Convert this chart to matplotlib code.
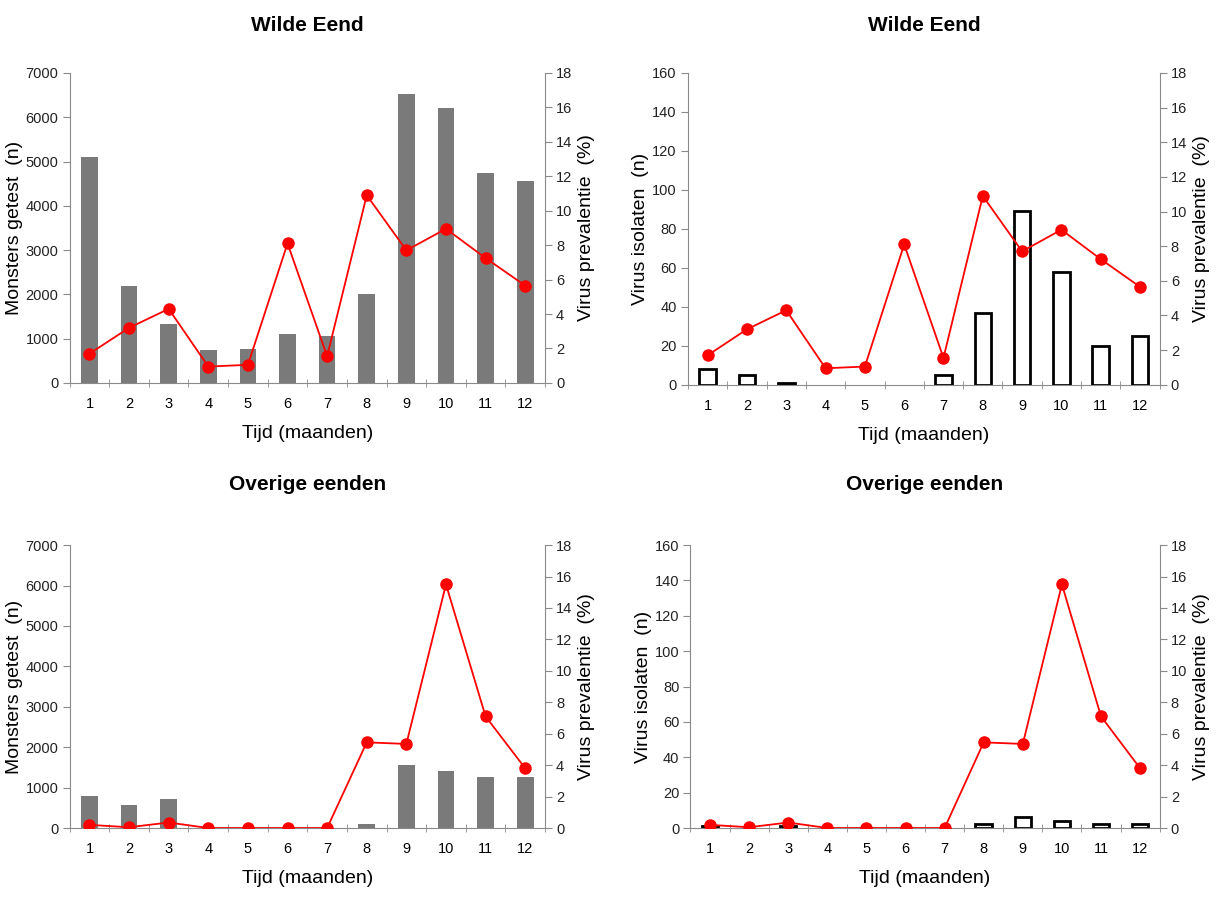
import numpy as np
import matplotlib
matplotlib.use("Agg")
import matplotlib.pyplot as plt

plt.rcParams['font.family'] = ['Liberation Sans', 'DejaVu Sans']

months = list(range(1, 13))
# Wilde Eend
we_tested = [5100, 2200, 1340, 740, 760, 1110, 1050, 2000, 6530, 6220, 4750, 4560]
we_isolates = [8, 5, 1, 0, 0, 0, 5, 37, 89, 58, 20, 25]
we_prev = [1.7, 3.2, 4.3, 0.95, 1.05, 8.1, 1.55, 10.9, 7.7, 8.95, 7.25, 5.65]
# Overige eenden
oe_tested = [800, 580, 710, 0, 0, 0, 0, 100, 1570, 1420, 1270, 1270]
oe_isolates = [1, 0, 1, 0, 0, 0, 0, 2, 6, 4, 2, 2]
oe_prev = [0.2, 0.05, 0.35, 0, 0, 0, 0, 5.45, 5.35, 15.5, 7.1, 3.8]

GREY = "#8a8a8a"

def panel(fig, rect, title, bars, prev, ylab, ymax, ystep, open_bars, tpad):
    ax = fig.add_axes(rect)
    x = np.array(months)
    if open_bars:
        lw = [2 if v > 0 else 0 for v in bars]
        ax.bar(x, bars, width=0.42, facecolor="white", edgecolor="black", linewidth=lw, zorder=2)
    else:
        ax.bar(x, bars, width=0.42, color="#7a7a7a", zorder=2)
    ax.set_xlim(0.5, 12.5); ax.set_ylim(0, ymax)
    ax.set_yticks(np.arange(0, ymax + 1, ystep))
    ax.set_xticks(x); ax.set_xticklabels([str(m) for m in months])
    ax.set_xticks(np.arange(0.5, 13, 1), minor=True)
    ax.tick_params(axis="x", which="major", length=0, pad=10, labelsize=10.5)
    ax.tick_params(axis="x", which="minor", length=6, direction="inout", color=GREY)
    ax.tick_params(axis="y", length=5, color=GREY, labelsize=10.5, labelcolor="#222222", pad=3)
    for s in ("top", "right"):
        ax.spines[s].set_visible(False)
    for s in ("left", "bottom"):
        ax.spines[s].set_color(GREY)
    ax.set_xlabel("Tijd (maanden)", fontsize=14, labelpad=10)
    ax.set_ylabel(ylab, fontsize=14, labelpad=2)
    ax.set_title(title, fontsize=15, fontweight="bold", pad=tpad)
    ax2 = ax.twinx()
    ax2.plot(x, prev, "-o", color="#ff0000", lw=1.3, ms=8, zorder=3)
    ax2.set_ylim(0, 18); ax2.set_yticks(np.arange(0, 19, 2))
    ax2.tick_params(axis="y", length=5, color=GREY, labelsize=10.5, labelcolor="#222222", pad=3)
    for s in ("top", "left", "bottom"):
        ax2.spines[s].set_visible(False)
    ax2.spines["right"].set_color(GREY)
    ax2.set_ylabel("Virus prevalentie  (%)", fontsize=14, labelpad=4)
    return ax

fig = plt.figure(figsize=(12.22, 9.01), dpi=100)
panel(fig, [0.057, 0.575, 0.389, 0.344], "Wilde Eend", we_tested, we_prev,
      "Monsters getest  (n)", 7000, 1000, False, 30)
panel(fig, [0.563, 0.573, 0.386, 0.346], "Wilde Eend", we_isolates, we_prev,
      "Virus isolaten  (n)", 160, 20, True, 30)
panel(fig, [0.057, 0.081, 0.389, 0.314], "Overige eenden", oe_tested, oe_prev,
      "Monsters getest  (n)", 7000, 1000, False, 40)
panel(fig, [0.565, 0.081, 0.384, 0.314], "Overige eenden", oe_isolates, oe_prev,
      "Virus isolaten  (n)", 160, 20, True, 40)
fig.savefig("out.png", dpi=100)
